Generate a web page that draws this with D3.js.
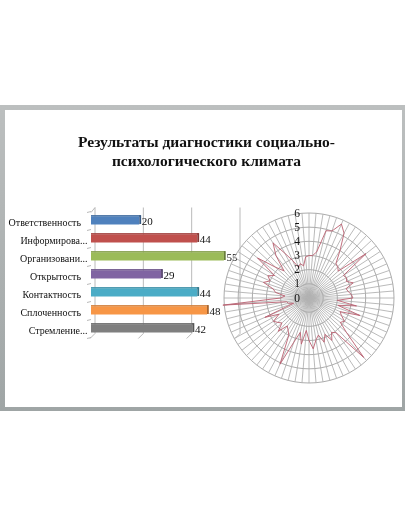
<!DOCTYPE html>
<html>
<head>
<meta charset="utf-8">
<script src="https://cdn.jsdelivr.net/npm/d3@7"></script>
<style>
  html, body { margin: 0; padding: 0; background: #fff; }
  svg { display: block; filter: blur(0.45px); }
  text { font-family: "Liberation Serif", serif; fill: #111; }
</style>
</head>
<body>
<script>
var titleLines = ['Результаты диагностики социально-', 'психологического климата'];

// bar chart
var categories = ['Ответственность', 'Информирова...', 'Организовани...', 'Открытость', 'Контактность', 'Сплоченность', 'Стремление...'];
var barValues = [20, 44, 55, 29, 44, 48, 42];
var barColors = ['#4f81bd', '#c0504d', '#9bbb59', '#8064a2', '#4bacc6', '#f79646', '#7f7f7f'];
var barTicks = [0, 20, 40, 60];

// radar, values clockwise from the top
var radarTicks = [0, 1, 2, 3, 4, 5, 6];
var radarValues = [
  3.0, 3.0, 3.3, 4.9, 5.0, 5.7, 5.2, 4.0, 3.1, 3.0,
  2.8, 5.1, 2.9, 3.0, 2.9, 3.3, 2.7, 2.8, 3.0, 3.1,
  2.0, 3.4, 2.1, 3.8, 2.4, 2.6, 3.0, 2.8, 3.6, 5.7,
  3.1, 2.9, 3.4, 2.8, 3.3, 2.7, 3.0, 3.6, 3.0, 2.3,
  3.3, 2.5, 3.3, 5.1, 3.0, 2.7, 2.5, 3.2, 2.6, 2.8,
  3.0, 2.4, 3.4, 1.15, 1.5, 1.6, 6.1, 2.0, 1.7, 2.4,
  2.6, 3.4, 3.0, 3.3, 2.9, 4.6, 3.2, 2.6, 3.8, 4.65,
  3.6, 2.9, 2.3, 2.5, 2.3, 2.9
];

var w = 406;
var h = 516;
var svg = d3.select('body').append('svg')
  .attr('width', w)
  .attr('height', h);

// page frame
var defs = svg.append('defs');
var grad = defs.append('linearGradient').attr('id', 'frame').attr('x1', 0).attr('x2', 0).attr('y1', 0).attr('y2', 1);
grad.append('stop').attr('offset', '0%').attr('stop-color', '#bcbfbf');
grad.append('stop').attr('offset', '100%').attr('stop-color', '#9fa5a5');
svg.append('rect').attr('x', 0).attr('y', 105).attr('width', 405).attr('height', 306).attr('fill', 'url(#frame)');
svg.append('rect').attr('x', 5).attr('y', 110).attr('width', 397).attr('height', 297).attr('fill', '#fff');

svg.selectAll('.title')
  .data(titleLines)
  .enter()
  .append('text')
  .attr('class', 'title')
  .attr('x', 206.5)
  .attr('y', function(d, i) { return 147 + i * 19; })
  .attr('text-anchor', 'middle')
  .attr('font-size', 15.5)
  .attr('font-weight', 'bold')
  .text(function(d) { return d; });

// bars
var depthX = 4;
var depthY = 5;
var x = d3.scaleLinear().domain([0, 60]).range([91, 236]);
var y = d3.scaleBand().domain(categories).range([212.5, 338.5]);
var barH = 8;
var barY = function(d) { return y(d) + (y.bandwidth() - barH) / 2 - 1; };

var grid = svg.append('g').attr('stroke', '#a8a8a8').attr('stroke-width', 0.8).attr('fill', 'none');
barTicks.forEach(function(t) {
  grid.append('line')
    .attr('x1', x(t) + depthX).attr('x2', x(t) + depthX)
    .attr('y1', y.range()[0] - depthY).attr('y2', y.range()[1] - depthY);
  grid.append('line')
    .attr('x1', x(t) + depthX).attr('x2', x(t) - 1)
    .attr('y1', y.range()[1] - depthY).attr('y2', y.range()[1]);
});
grid.append('line')
  .attr('x1', x(0)).attr('x2', x(0) + depthX)
  .attr('y1', y.range()[0]).attr('y2', y.range()[0] - depthY);
d3.range(categories.length + 1).forEach(function(i) {
  var ty = y.range()[0] + i * y.step();
  grid.append('line')
    .attr('x1', x(0) - 4).attr('x2', x(0))
    .attr('y1', ty).attr('y2', ty - 1);
});

var bars = svg.selectAll('.bar')
  .data(categories)
  .enter()
  .append('g')
  .attr('class', 'bar');

// top face
bars.append('rect')
  .attr('x', x(0))
  .attr('y', function(d) { return barY(d) - 1.4; })
  .attr('width', function(d, i) { return x(barValues[i]) - x(0) + 1; })
  .attr('height', 1.6)
  .attr('fill', function(d, i) { return d3.color(barColors[i]).darker(0.45); });
// front face
bars.append('rect')
  .attr('x', x(0))
  .attr('y', barY)
  .attr('width', function(d, i) { return x(barValues[i]) - x(0); })
  .attr('height', barH)
  .attr('fill', function(d, i) { return barColors[i]; });
// side face
bars.append('rect')
  .attr('x', function(d, i) { return x(barValues[i]); })
  .attr('y', function(d) { return barY(d) - 1.4; })
  .attr('width', 1.8)
  .attr('height', barH + 0.9)
  .attr('fill', function(d, i) { return d3.color(barColors[i]).darker(1.1); });

// cut off names hang their dots past the right edge of the others
svg.selectAll('.cat')
  .data(categories)
  .enter()
  .append('text')
  .attr('class', 'cat')
  .attr('x', function(d) { return d.slice(-1) === '.' ? 87.5 : 81; })
  .attr('y', function(d) { return y(d) + y.bandwidth() / 2 + 4; })
  .attr('text-anchor', 'end')
  .attr('font-size', 10)
  .text(function(d) { return d; });

svg.selectAll('.val')
  .data(barValues)
  .enter()
  .append('text')
  .attr('class', 'val')
  .attr('x', function(d) { return x(d) + 2.5; })
  .attr('y', function(d, i) { return y(categories[i]) + y.bandwidth() / 2 + 3; })
  .attr('font-size', 11)
  .text(function(d) { return d; });

// radar
var cx = 309;
var cy = 298;
var r = d3.scaleLinear().domain([0, 6]).range([0, 85]);
var angle = function(i) { return i * 2 * Math.PI / radarValues.length; };
var radar = svg.append('g').attr('transform', 'translate(' + cx + ',' + cy + ')');

radar.selectAll('.spoke')
  .data(radarValues)
  .enter()
  .append('line')
  .attr('class', 'spoke')
  .attr('x1', 0)
  .attr('y1', 0)
  .attr('x2', function(d, i) { return r(6) * Math.sin(angle(i)); })
  .attr('y2', function(d, i) { return -r(6) * Math.cos(angle(i)); })
  .attr('stroke', '#b2b2b2')
  .attr('stroke-width', 0.9);

var ringLine = d3.lineRadial()
  .angle(function(d, i) { return angle(i); })
  .curve(d3.curveLinearClosed);

radar.selectAll('.ring')
  .data(radarTicks.slice(1))
  .enter()
  .append('path')
  .attr('class', 'ring')
  .attr('d', function(t) {
    return ringLine.radius(function() { return r(t); })(radarValues);
  })
  .attr('fill', 'none')
  .attr('stroke', '#a8a8a8')
  .attr('stroke-width', 0.95);

radar.append('path')
  .attr('d', ringLine.radius(function(d) { return r(d); })(radarValues))
  .attr('fill', 'none')
  .attr('stroke', '#bb6070')
  .attr('stroke-width', 0.9);

radar.selectAll('.rtick')
  .data(radarTicks)
  .enter()
  .append('text')
  .attr('class', 'rtick')
  .attr('x', -9)
  .attr('y', function(d) { return -r(d) + 3.5; })
  .attr('text-anchor', 'end')
  .attr('font-size', 11.5)
  .text(function(d) { return d; });
</script>
</body>
</html>
